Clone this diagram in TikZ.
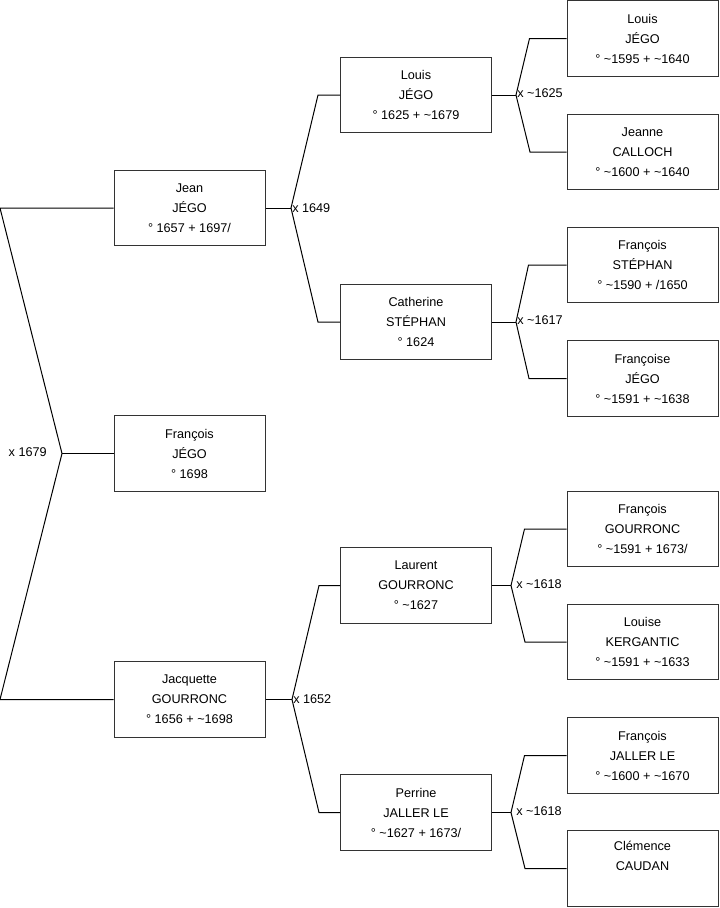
\documentclass[tikz,border=0pt]{standalone}
\usepackage{fontspec}
\setmainfont{Liberation Sans}
\begin{document}
\begin{tikzpicture}[x=0.75pt,y=-0.75pt,
  person/.style={draw=black!80, line width=0.75pt, fill=white, minimum width=113.25pt, minimum height=56.5pt,
    inner sep=0pt, align=center, font=\fontsize{9.5pt}{15pt}\selectfont, text=black},
  link/.style={draw=black, line width=0.75pt},
  marr/.style={font=\fontsize{9.5pt}{11pt}\selectfont, inner sep=0pt, text=black}]
\useasboundingbox (0,0) rectangle (719,908);

% generation 1
\node[person] (jean) at (189.5,208) {Jean\\JÉGO\\° 1657 + 1697/};
\node[person] (francois) at (189.5,453.5) {François\\JÉGO\\° 1698};
\node[person] (jacq) at (189.5,699.5) {Jacquette\\GOURRONC\\° 1656 + \textasciitilde 1698};

% generation 2
\node[person] (louis) at (416,95) {Louis\\JÉGO\\° 1625 + \textasciitilde 1679};
\node[person] (cath) at (416,322) {Catherine\\STÉPHAN\\° 1624};
\node[person] (laur) at (416,585.5) {Laurent\\GOURRONC\\° \textasciitilde 1627};
\node[person] (perr) at (416,812.5) {Perrine\\JALLER LE\\° \textasciitilde 1627 + 1673/};

% generation 3
\node[person] (louisp) at (642.5,38.5) {Louis\\JÉGO\\° \textasciitilde 1595 + \textasciitilde 1640};
\node[person] (jeanne) at (642.5,152) {Jeanne\\CALLOCH\\° \textasciitilde 1600 + \textasciitilde 1640};
\node[person] (frst) at (642.5,265) {François\\STÉPHAN\\° \textasciitilde 1590 + /1650};
\node[person] (frjeg) at (642.5,378.5) {Françoise\\JÉGO\\° \textasciitilde 1591 + \textasciitilde 1638};
\node[person] (frgou) at (642.5,529) {François\\GOURRONC\\° \textasciitilde 1591 + 1673/};
\node[person] (louise) at (642.5,642) {Louise\\KERGANTIC\\° \textasciitilde 1591 + \textasciitilde 1633};
\node[person] (frjal) at (642.5,755.5) {François\\JALLER LE\\° \textasciitilde 1600 + \textasciitilde 1670};
\node[person] (clem) at (642.5,868.5) {Clémence\\CAUDAN\\\strut};

% fork points
\coordinate (f0) at (62,453.5);
\coordinate (f0a) at (0,208);
\coordinate (f0b) at (0,699.5);
\coordinate (f1) at (291,208);
\coordinate (f2) at (292,699.5);
\coordinate (f3) at (516,95);
\coordinate (f4) at (516,322);
\coordinate (f5) at (511,585.5);
\coordinate (f6) at (511,812.5);

% gen 1 family
\draw[link] (jean.west) -- (f0a) -- (f0) -- (f0b) -- (jacq.west);
\draw[link] (f0) -- (francois.west);
\node[marr, anchor=east] (m0) at (47,452) {x 1679};

% gen 2 families
\draw[link] (jean.east) -- (f1);
\draw[link] (louis.west) -- ++(-22,0) -- (f1) -- (318,322) -- (cath.west);
\node[marr, anchor=west] (m1) at (292,208) {x 1649};

\draw[link] (jacq.east) -- (f2);
\draw[link] (laur.west) -- ++(-21,0) -- (f2) -- (319,812.5) -- (perr.west);
\node[marr, anchor=west] (m2) at (293,699.5) {x 1652};

% gen 3 families
\draw[link] (louis.east) -- (f3);
\draw[link] (louisp.west) -- ++(-37,0) -- (f3) -- (530,152) -- (jeanne.west);
\node[marr, anchor=west] (m3) at (517,93) {x \textasciitilde 1625};

\draw[link] (cath.east) -- (f4);
\draw[link] (frst.west) -- ++(-38,0) -- (f4) -- (529,378.5) -- (frjeg.west);
\node[marr, anchor=west] (m4) at (517,320) {x \textasciitilde 1617};

\draw[link] (laur.east) -- (f5);
\draw[link] (frgou.west) -- ++(-42,0) -- (f5) -- (525,642) -- (louise.west);
\node[marr, anchor=west] (m5) at (516,584) {x \textasciitilde 1618};

\draw[link] (perr.east) -- (f6);
\draw[link] (frjal.west) -- ++(-42,0) -- (f6) -- (525,868.5) -- (clem.west);
\node[marr, anchor=west] (m6) at (516,811) {x \textasciitilde 1618};
\end{tikzpicture}
\end{document}
